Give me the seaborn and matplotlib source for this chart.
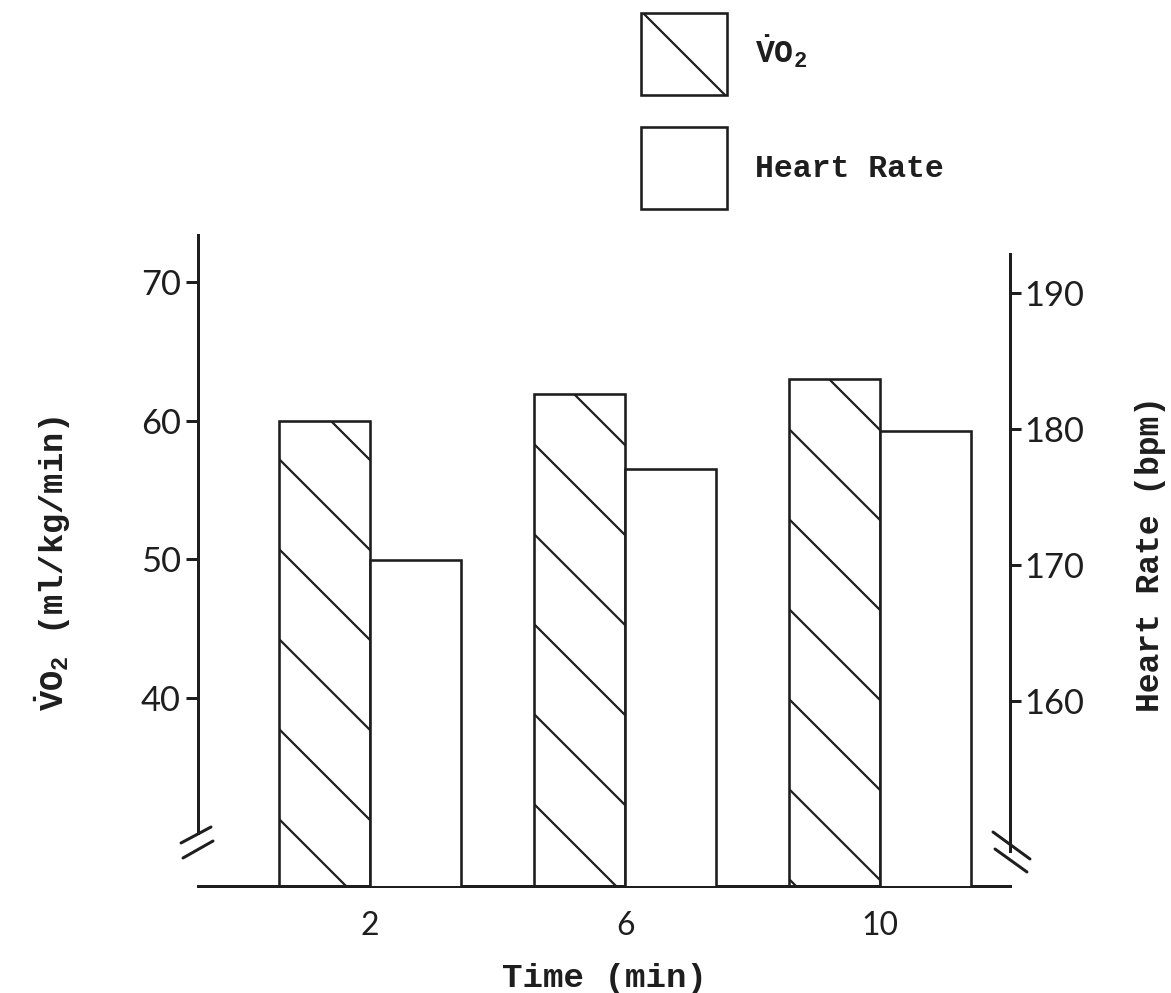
import matplotlib
matplotlib.use('Agg')
import matplotlib.pyplot as plt
import seaborn as sns
import pandas as pd
from matplotlib.patches import Patch
from matplotlib.lines import Line2D

# ---- data -------------------------------------------------------------
times = ['2', '6', '10']
vo2 = [60.0, 61.9, 63.0]
heart_rate = [170.4, 177.1, 179.9]
vo2_ticks = [40, 50, 60, 70]
hr_ticks = [160, 170, 180, 190]
measures = ['VO2', 'Heart Rate']
vo2_label = r'$\dot{\mathrm{V}}\mathrm{O}_{2}$'

# ---- style -----------------------------------------------------------
W, H, DPI = 1171, 993, 270
PX = 72 / DPI  # points per pixel
INK = '#1e1e1e'

sns.set_theme(style='white')
plt.rcParams['font.family'] = ['Liberation Mono', 'DejaVu Sans']
plt.rcParams.update({
    'mathtext.fontset': 'custom',
    'mathtext.rm': 'Liberation Mono:bold',
    'mathtext.it': 'Liberation Mono:bold',
    'mathtext.bf': 'Liberation Mono:bold',
    'hatch.color': INK,
    'hatch.linewidth': 2.2 * PX,
    'axes.edgecolor': INK,
    'text.color': INK,
    'xtick.color': INK,
    'ytick.color': INK,
    'axes.labelcolor': INK,
})

fig = plt.figure(figsize=(W / DPI, H / DPI), dpi=DPI, facecolor='white')
ax = fig.add_axes([198 / W, 1 - 886 / H, (1010 - 198) / W, (886 - 228) / H])
ax.patch.set_visible(False)

df_vo2 = pd.DataFrame({'Time': times, 'value': vo2, 'Measure': measures[0]})
df_hr = pd.DataFrame({'Time': times, 'value': heart_rate, 'Measure': measures[1]})
palette = {m: 'white' for m in measures}
common = dict(x='Time', y='value', hue='Measure', hue_order=measures, order=times,
              palette=palette, saturation=1, width=0.714, dodge=True, errorbar=None,
              edgecolor=INK, linewidth=2.6 * PX, legend=False)

sns.barplot(data=df_vo2, ax=ax, **common)
for p in ax.patches:
    p.set_hatch('\\')

ax2 = ax.twinx()
sns.barplot(data=df_hr, ax=ax2, **common)

# ---- axes limits & spines --------------------------------------------
ax.set_xlim(-0.675, 2.51)
ax.set_ylim(26.45, 73.9)
ax2.set_ylim(146.4, 194.8)

for s in ['top', 'right']:
    ax.spines[s].set_visible(False)
for s in ['top', 'left', 'bottom']:
    ax2.spines[s].set_visible(False)
ax.spines['left'].set_bounds(30.27, 73.4)
ax2.spines['right'].set_bounds(149.0, 192.9)
for sp in (ax.spines['left'], ax.spines['bottom'], ax2.spines['right']):
    sp.set_linewidth(3 * PX)
    sp.set_color(INK)

# ---- ticks -------------------------------------------------------------
ax.set_yticks(vo2_ticks, labels=[str(v) for v in vo2_ticks], fontfamily='Lato', fontsize=9.2)
ax.tick_params(axis='y', direction='out', length=12 * PX, width=3 * PX, pad=5 * PX, left=True)
ax2.set_yticks(hr_ticks, labels=[str(v) for v in hr_ticks], fontfamily='Lato', fontsize=9.2)
ax2.tick_params(axis='y', direction='out', length=11 * PX, width=3 * PX, pad=3 * PX, right=True)
ax.set_xticks(range(len(times)), labels=times, fontfamily='Lato', fontsize=8.5)
ax.tick_params(axis='x', length=0, pad=25 * PX)

# ---- labels ------------------------------------------------------------
ax.set_xlabel('Time (min)', fontsize=9.1, fontweight='bold', labelpad=22 * PX)
ax.set_ylabel(vo2_label + ' (ml/kg/min)', fontsize=9.0, fontweight='bold')
ax.yaxis.set_label_coords((73 - 198) / (1010 - 198), 0.49)
ax2.set_ylabel('Heart Rate (bpm)', fontsize=8.8, fontweight='bold')
ax2.yaxis.set_label_coords((1135 - 198) / (1010 - 198), 0.505)

# ---- axis-break marks (decoration) ------------------------------------
def seg(x0, y0, x1, y1):
    fig.add_artist(Line2D([x0 / W, x1 / W], [1 - y0 / H, 1 - y1 / H],
                          transform=fig.transFigure, color=INK, lw=3 * PX,
                          solid_capstyle='round'))

seg(181, 843, 211, 827)
seg(183, 858, 213, 841)
seg(993, 832, 1030, 859)
seg(995, 849, 1027, 872)

# ---- legend ------------------------------------------------------------
handles = [Patch(facecolor='white', edgecolor=INK, hatch='\\', linewidth=2.6 * PX),
           Patch(facecolor='white', edgecolor=INK, linewidth=2.6 * PX)]
fig.legend(handles, [vo2_label, 'Heart Rate'], loc='upper left',
           bbox_to_anchor=(641 / W, 1 - 13 / H), frameon=False,
           prop=dict(family='Liberation Mono', weight='bold', size=8.4),
           handlelength=2.73, handleheight=3.64, labelspacing=1.0,
           handletextpad=0.9, borderpad=0, borderaxespad=0)

fig.savefig('out.png', dpi=DPI, facecolor='white')
